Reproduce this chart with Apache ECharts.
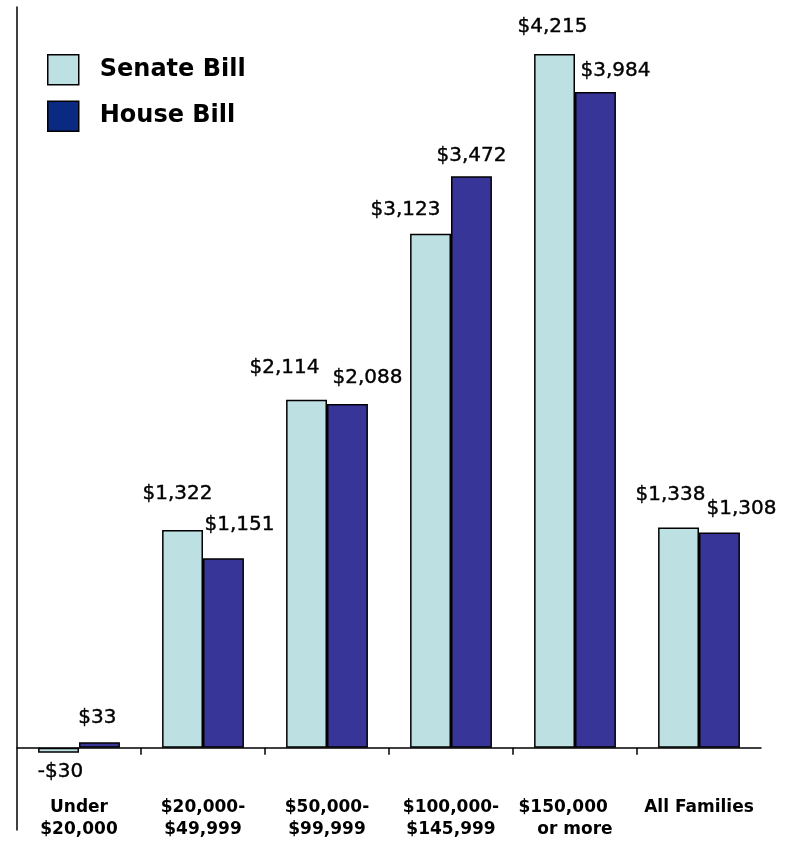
<!DOCTYPE html>
<html>
<head>
<meta charset="utf-8">
<script src="https://cdn.jsdelivr.net/npm/echarts@6/dist/echarts.min.js"></script>
<style>
  html, body { margin: 0; padding: 0; background: #ffffff; }
  #chart { width: 789px; height: 842px; }
</style>
</head>
<body>
<div id="chart"></div>
<script>
// Income groups along the x axis
const categories = ['Under\n$20,000', '$20,000-\n$49,999', '$50,000-\n$99,999', '$100,000-\n$145,999', '$150,000    \nor more', 'All Families'];
// Average change per family, in dollars
const senateBill = [-30, 1322, 2114, 3123, 4215, 1338];
const houseBill = [33, 1151, 2088, 3472, 3984, 1308];

// Per-bar nudges for the value labels [dx, dy]
const senateLabelShift = [[2, 4], [-5, -21], [-22, -17], [-25, -9], [-2, -12], [-8, -18]];
const houseLabelShift = [[-2, -9], [16, -18], [20, -11], [0, -5], [20, -6], [22, -9]];

// Separator ticks between the groups (group boundaries, interior only)
const separatorTicks = [1, 2, 3, 4, 5];

const SENATE_COLOR = '#bde0e3';
const HOUSE_COLOR = '#383598';
const HOUSE_KEY_COLOR = '#0a2a82';
const LABEL_FONT = 'DejaVu Sans';

function money(v) {
  return v < 0 ? '-$' + Math.abs(v).toLocaleString('en-US') : '$' + v.toLocaleString('en-US');
}

function buildData(values, shifts) {
  return values.map((v, i) => ({
    value: v,
    label: {
      position: v < 0 ? 'bottom' : 'top',
      offset: shifts[i]
    }
  }));
}

const chart = echarts.init(document.getElementById('chart'), null, { renderer: 'canvas' });

const valueLabel = {
  show: true,
  distance: 5,
  fontFamily: LABEL_FONT,
  fontSize: 20,
  color: '#000',
  textBorderColor: '#000',
  textBorderWidth: 0.4,
  formatter: p => money(p.value)
};

chart.setOption({
  animation: false,
  backgroundColor: '#ffffff',
  grid: { left: 17, right: 28, top: 7, bottom: 12, containLabel: false, outerBoundsMode: 'none' },
  legend: {
    orient: 'vertical',
    left: 47,
    top: 54,
    itemWidth: 31,
    itemHeight: 30,
    itemGap: 15,
    padding: 0,
    textStyle: {
      fontFamily: LABEL_FONT,
      fontWeight: 'bold',
      fontSize: 24,
      color: '#000',
      padding: [0, 0, 0, 16]
    },
    data: [
      { name: 'Senate Bill', icon: 'rect', itemStyle: { color: SENATE_COLOR, borderColor: '#000', borderWidth: 1.5 } },
      { name: 'House Bill', icon: 'rect', itemStyle: { color: HOUSE_KEY_COLOR, borderColor: '#000', borderWidth: 1.5 } }
    ]
  },
  xAxis: [
    {
      type: 'category',
      data: categories,
      axisLine: { onZero: true, lineStyle: { color: '#000', width: 1.5 } },
      axisTick: { show: false },
      axisLabel: {
        margin: -33,
        fontFamily: LABEL_FONT,
        fontWeight: 'bold',
        fontSize: 17,
        lineHeight: 22,
        color: '#000',
        interval: 0
      }
    },
    {
      // companion axis that only carries the group separator ticks
      type: 'value',
      position: 'bottom',
      min: 0,
      max: categories.length,
      interval: 1,
      axisLine: { show: false, onZero: true, onZeroAxisIndex: 0 },
      axisTick: { show: true, length: 7, customValues: separatorTicks, lineStyle: { color: '#000', width: 1.5 } },
      axisLabel: { show: false },
      splitLine: { show: false }
    }
  ],
  yAxis: {
    type: 'value',
    min: -500,
    max: 4500,
    interval: 500,
    axisLine: { show: true, lineStyle: { color: '#000', width: 1.5 } },
    axisTick: { show: false },
    axisLabel: { show: false },
    splitLine: { show: false }
  },
  series: [
    {
      name: 'Senate Bill',
      type: 'bar',
      barGap: '0%',
      barCategoryGap: '34%',
      itemStyle: { color: SENATE_COLOR, borderColor: '#000', borderWidth: 1.5 },
      label: valueLabel,
      data: buildData(senateBill, senateLabelShift)
    },
    {
      name: 'House Bill',
      type: 'bar',
      barGap: '0%',
      barCategoryGap: '34%',
      itemStyle: { color: HOUSE_COLOR, borderColor: '#000', borderWidth: 1.5 },
      label: valueLabel,
      data: buildData(houseBill, houseLabelShift)
    }
  ]
});
</script>
</body>
</html>
